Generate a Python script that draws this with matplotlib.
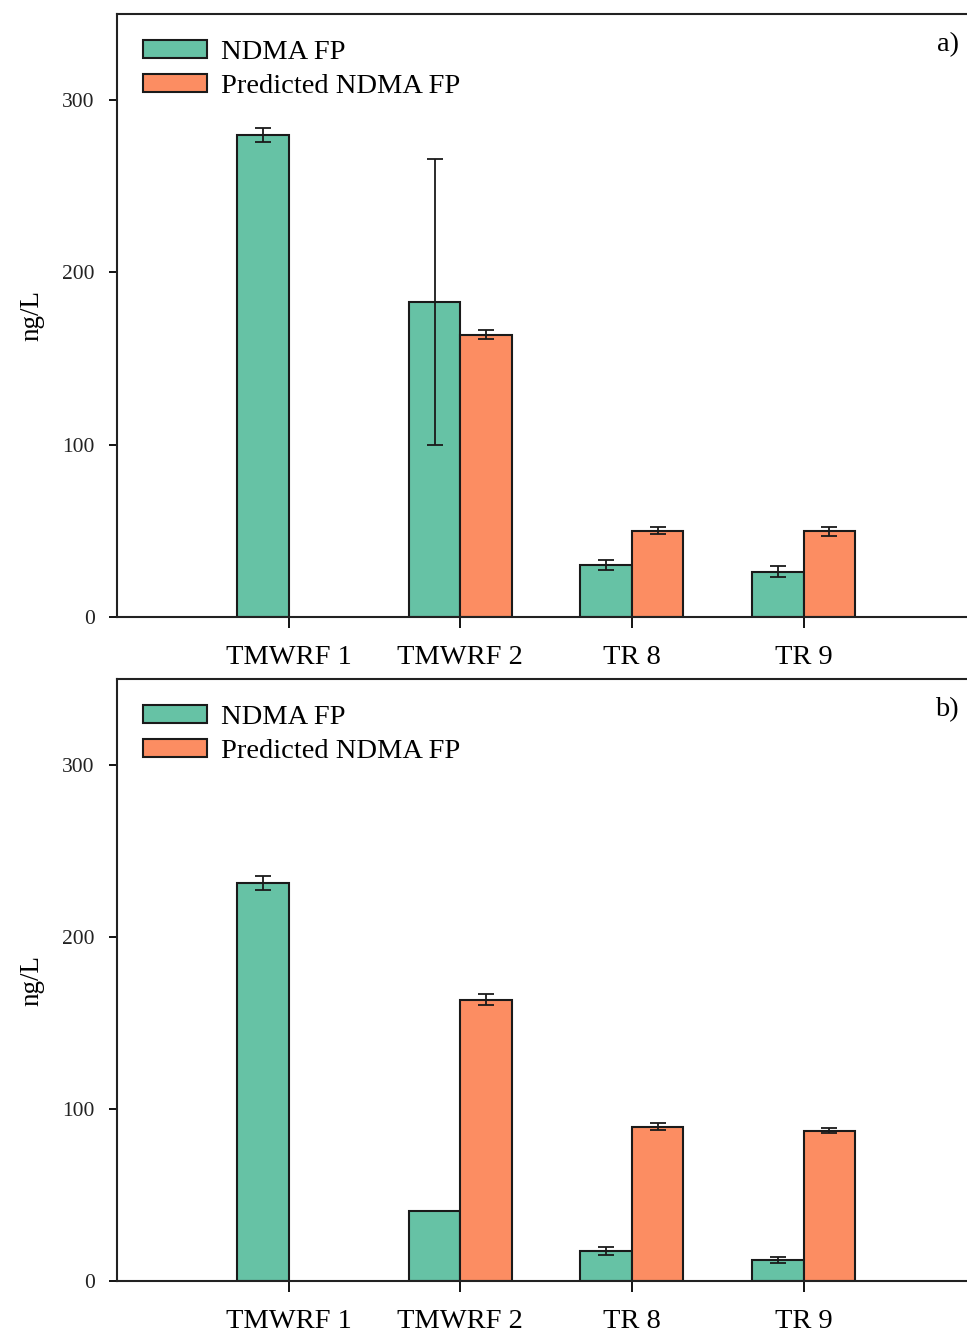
# Two stacked bar charts: measured vs predicted NDMA FP per sample
import matplotlib.pyplot as plt
import numpy as np

plt.rcParams['font.family'] = ['Liberation Serif', 'DejaVu Serif']

# data
sites = ["TMWRF 1", "TMWRF 2", "TR 8", "TR 9"]

# panel a)
fp_a = [279.7, 182.6, 30.2, 26.3]
fp_a_err = [4.0, 83.0, 2.8, 3.2]
pred_a = [np.nan, 163.8, 50.1, 49.9]
pred_a_err = [np.nan, 2.6, 2.1, 2.6]

# panel b)
fp_b = [231.2, 40.6, 17.4, 12.2]
fp_b_err = [4.0, np.nan, 2.1, 1.6]
pred_b = [np.nan, 163.6, 89.8, 87.5]
pred_b_err = [np.nan, 3.0, 2.1, 1.6]

green = "#66C2A5"
orange = "#FC8D62"
edge = "#1a1a1a"

fig = plt.figure(figsize=(9.67, 13.33), dpi=100)
ax_a = fig.add_axes([0.121, 0.5371, 0.8876, 0.4524])
ax_b = fig.add_axes([0.121, 0.0390, 0.8876, 0.4516])

x = np.arange(len(sites))
w = 0.30

panels = [(ax_a, fp_a, fp_a_err, pred_a, pred_a_err, "a)"),
          (ax_b, fp_b, fp_b_err, pred_b, pred_b_err, "b)")]

for ax, fp, fp_err, pred, pred_err, tag in panels:
    ax.bar(x - w / 2, fp, w, color=green, edgecolor=edge, linewidth=1.5,
           label="NDMA FP", zorder=2)
    ax.bar(x + w / 2, pred, w, color=orange, edgecolor=edge, linewidth=1.5,
           label="Predicted NDMA FP", zorder=2)
    ax.errorbar(x - w / 2, fp, yerr=fp_err, fmt="none", ecolor=edge,
                elinewidth=1.3, capsize=6, capthick=1.3, zorder=3)
    ax.errorbar(x + w / 2, pred, yerr=pred_err, fmt="none", ecolor=edge,
                elinewidth=1.3, capsize=6, capthick=1.3, zorder=3)

    ax.set_xlim(-1, 4)
    ax.set_ylim(0, 350)
    ax.set_xticks(x)
    ax.set_xticklabels(sites, fontsize=20.5)
    ax.set_yticks([0, 100, 200, 300])
    ax.tick_params(axis="y", direction="out", length=6, width=1.3,
                   labelsize=15.5, pad=10, labelcolor="#222222")
    ax.tick_params(axis="x", direction="out", length=8, width=1.3, pad=12)
    for s in ax.spines.values():
        s.set_linewidth(1.5)
        s.set_color("#222222")
    ax.set_ylabel("ng/L", fontsize=19.5, labelpad=13)

    ax.legend(loc="upper left", bbox_to_anchor=(0.007, 0.99), frameon=False,
              fontsize=20.5, handlelength=2.25, handleheight=0.6,
              handletextpad=0.5, labelspacing=0.3, borderaxespad=0.3)
    # right spine falls off the figure, so place the tag in axes pixels
    ax.text(842 / 858.3, 0.95, tag, transform=ax.transAxes, fontsize=20.5,
            ha="right", va="center")

fig.savefig("out.png", dpi=100)
